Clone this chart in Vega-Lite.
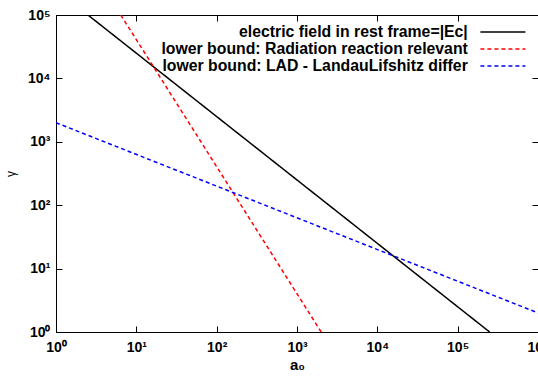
{
  "$schema": "https://vega.github.io/schema/vega-lite/v6.json",
  "width": 482,
  "height": 317,
  "autosize": {"type": "none"},
  "padding": {"left": 56, "top": 15, "right": 0, "bottom": 47},
  "background": "white",
  "config": {
    "font": "Liberation Sans",
    "view": {"stroke": "black", "strokeWidth": 1},
    "axis": {
      "grid": false,
      "domainColor": "black",
      "domainWidth": 1,
      "tickColor": "black",
      "tickWidth": 1,
      "tickSize": -6,
      "labelFont": "Liberation Sans",
      "labelFontWeight": "bold",
      "labelFontSize": 14,
      "labelColor": "black",
      "titleColor": "black",
      "titleFont": "Liberation Sans"
    }
  },
  "data": {
    "values": [
      {"series": "electric field in rest frame=|Ec|", "a0": 2.5, "gamma": 100000},
      {"series": "electric field in rest frame=|Ec|", "a0": 250000, "gamma": 1},
      {"series": "lower bound: Radiation reaction relevant", "a0": 6.4, "gamma": 100000},
      {"series": "lower bound: Radiation reaction relevant", "a0": 2000, "gamma": 1},
      {"series": "lower bound: LAD - LandauLifshitz differ", "a0": 1, "gamma": 2000},
      {"series": "lower bound: LAD - LandauLifshitz differ", "a0": 1000000, "gamma": 2}
    ]
  },
  "layer": [
    {
      "mark": {"type": "line", "strokeWidth": 1.5, "clip": true},
      "encoding": {
        "x": {
          "field": "a0", "type": "quantitative",
          "scale": {"type": "log", "domain": [1, 1000000]},
          "axis": {
            "orient": "bottom",
            "values": [1, 10, 100, 1000, 10000, 100000, 1000000],
            "labelExpr": "'10' + ['⁰','¹','²','³','⁴','⁵','⁶'][round(log(datum.value)/LN10)]",
            "labelPadding": 14,
            "labelFlush": false,
            "labelOverlap": false,
            "title": "a₀",
            "titleFontSize": 15,
            "titleFontWeight": "bold",
            "titlePadding": 3
          }
        },
        "y": {
          "field": "gamma", "type": "quantitative",
          "scale": {"type": "log", "domain": [1, 100000]},
          "axis": {
            "orient": "left",
            "values": [1, 10, 100, 1000, 10000, 100000],
            "labelExpr": "'10' + ['⁰','¹','²','³','⁴','⁵','⁶'][round(log(datum.value)/LN10)]",
            "labelPadding": 12,
            "labelFlush": false,
            "labelOverlap": false,
            "title": "γ",
            "titleFontSize": 12,
            "titleFontWeight": "normal",
            "titlePadding": 10
          }
        },
        "color": {
          "field": "series", "type": "nominal",
          "scale": {
            "domain": ["electric field in rest frame=|Ec|", "lower bound: Radiation reaction relevant", "lower bound: LAD - LandauLifshitz differ"],
            "range": ["#000000", "#ff0000", "#0000ff"]
          },
          "legend": {
            "title": null, "orient": "none", "legendX": 439, "legendY": 9,
            "symbolType": "M-4.5,0H4.5", "symbolSize": 100, "symbolStrokeWidth": 1.5,
            "labelFontSize": 15.8, "labelFontWeight": "bold", "labelColor": "black",
            "labelAlign": "right", "labelOffset": -43, "labelLimit": 0,
            "rowPadding": 0, "padding": 0
          }
        },
        "strokeDash": {
          "field": "series", "type": "nominal",
          "scale": {
            "domain": ["electric field in rest frame=|Ec|", "lower bound: Radiation reaction relevant", "lower bound: LAD - LandauLifshitz differ"],
            "range": [[1, 0], [4, 3], [4, 3]]
          },
          "legend": {
            "title": null, "orient": "none", "legendX": 439, "legendY": 9,
            "symbolType": "M-4.5,0H4.5", "symbolSize": 100, "symbolStrokeWidth": 1.5,
            "labelFontSize": 15.8, "labelFontWeight": "bold", "labelColor": "black",
            "labelAlign": "right", "labelOffset": -43, "labelLimit": 0,
            "rowPadding": 0, "padding": 0
          }
        }
      }
    },
    {
      "mark": {"type": "line", "opacity": 0},
      "encoding": {
        "x": {
          "field": "a0", "type": "quantitative",
          "scale": {"type": "log", "domain": [1, 1000000]},
          "axis": {"orient": "top", "values": [1, 10, 100, 1000, 10000, 100000, 1000000], "labels": false, "title": null}
        },
        "y": {
          "field": "gamma", "type": "quantitative",
          "scale": {"type": "log", "domain": [1, 100000]},
          "axis": {"orient": "right", "values": [1, 10, 100, 1000, 10000, 100000], "labels": false, "title": null}
        },
        "detail": {"field": "series"}
      }
    }
  ],
  "resolve": {"axis": {"x": "independent", "y": "independent"}}
}
